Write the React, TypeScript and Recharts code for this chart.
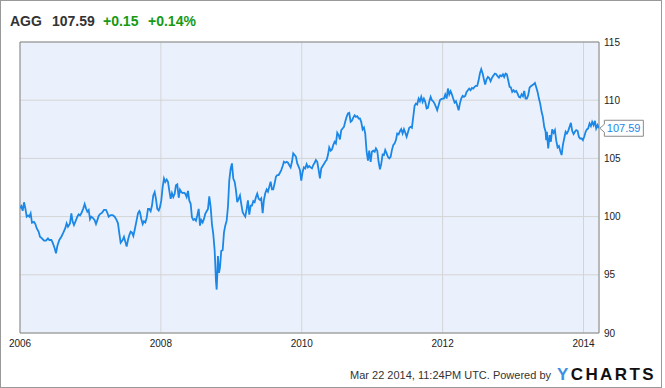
import React from 'react';
import { LineChart, Line, XAxis, YAxis, CartesianGrid, ReferenceArea, ReferenceDot } from 'recharts';

const ticker = 'AGG';
const lastPrice = 107.59;
const changeAbs = '+0.15';
const changePct = '+0.14%';
const footerText = 'Mar 22 2014, 11:24PM UTC. Powered by';

const xTicks = [2006, 2008, 2010, 2012, 2014];
const yTicks = [90, 95, 100, 105, 110, 115];
const xDomain: [number, number] = [2006, 2014.22];
const yDomain: [number, number] = [90, 115];

// [decimal year, closing price]
const seg2006_2007: [number, number][] = [
  [2006.000,100.71],[2006.019,100.90],[2006.038,100.50],[2006.057,101.23],[2006.076,100.70],[2006.095,99.99],[2006.114,100.10],[2006.132,100.00],[2006.151,100.28],[2006.170,99.48],[2006.199,99.55],[2006.218,99.36],[2006.237,99.00],[2006.265,98.70],[2006.284,98.27],[2006.312,98.13],[2006.341,97.93],[2006.369,97.93],[2006.397,98.13],[2006.416,97.99],[2006.445,97.99],[2006.464,97.76],[2006.492,97.28],[2006.511,96.85],[2006.530,97.47],[2006.558,97.99],[2006.587,98.27],[2006.615,98.62],[2006.643,99.00],[2006.662,99.42],[2006.681,99.13],[2006.710,99.42],[2006.729,100.28],[2006.748,99.55],[2006.766,99.27],[2006.785,99.55],[2006.814,99.99],[2006.833,100.19],[2006.852,100.10],[2006.871,100.28],[2006.899,100.71],[2006.918,101.08],[2006.937,100.71],[2006.956,100.42],[2006.975,100.57],[2006.994,99.77],
  [2007.012,99.99],[2007.041,99.85],[2007.060,99.70],[2007.079,99.36],[2007.098,99.70],[2007.117,100.05],[2007.136,100.22],[2007.164,100.33],[2007.192,100.57],[2007.221,100.57],[2007.240,100.33],[2007.259,99.99],[2007.287,100.13],[2007.315,100.13],[2007.344,99.99],[2007.372,99.70],[2007.391,99.42],[2007.410,98.56],[2007.429,97.76],[2007.457,97.99],[2007.476,98.27],[2007.495,97.85],[2007.514,97.42],[2007.533,97.99],[2007.552,98.41],[2007.571,98.70],[2007.590,98.62],[2007.609,98.33],[2007.628,98.85],[2007.656,99.70],[2007.675,100.28],[2007.694,100.48],[2007.703,100.38],[2007.722,99.80],[2007.742,99.36],[2007.760,99.60],[2007.779,99.50],[2007.798,99.88],[2007.817,100.66],[2007.835,100.66],[2007.855,100.46],[2007.874,100.95],[2007.892,101.82],[2007.912,102.11],[2007.930,101.53],[2007.949,100.66],[2007.969,100.52],[2007.987,100.81],
];

const seg2008_2009: [number, number][] = [
  [2008.006,101.39],[2008.025,102.54],[2008.044,103.27],[2008.062,102.98],[2008.082,103.18],[2008.101,102.98],[2008.119,102.25],[2008.139,101.53],[2008.157,102.02],[2008.176,101.68],[2008.196,101.97],[2008.214,102.69],[2008.233,102.77],[2008.253,101.62],[2008.271,102.31],[2008.290,102.11],[2008.309,102.02],[2008.328,102.05],[2008.346,101.97],[2008.366,101.68],[2008.385,102.20],[2008.403,101.39],[2008.423,101.10],[2008.441,99.94],[2008.460,99.71],[2008.480,99.80],[2008.498,99.65],[2008.517,100.09],[2008.537,100.66],[2008.555,99.22],[2008.573,99.71],[2008.593,99.50],[2008.612,99.80],[2008.630,100.23],[2008.650,100.46],[2008.669,100.66],[2008.687,101.73],[2008.707,100.81],[2008.725,99.36],[2008.744,98.50],[2008.764,97.05],[2008.782,94.45],[2008.792,93.73],[2008.801,95.03],[2008.810,96.62],[2008.825,95.17],[2008.839,95.61],[2008.857,97.05],[2008.877,97.11],[2008.896,98.64],[2008.914,99.22],[2008.934,99.65],[2008.952,100.81],[2008.971,103.12],[2008.991,104.13],
  [2009.009,104.57],[2009.028,103.27],[2009.048,102.98],[2009.066,102.25],[2009.084,101.24],[2009.104,101.53],[2009.123,101.82],[2009.141,101.10],[2009.161,100.38],[2009.180,100.17],[2009.198,100.00],[2009.218,100.66],[2009.236,101.39],[2009.255,100.17],[2009.275,100.95],[2009.293,100.95],[2009.312,101.33],[2009.331,101.24],[2009.350,101.68],[2009.368,101.97],[2009.388,101.53],[2009.407,101.43],[2009.425,101.57],[2009.445,100.29],[2009.463,101.43],[2009.482,102.00],[2009.502,102.34],[2009.520,102.14],[2009.539,102.57],[2009.558,103.00],[2009.577,102.34],[2009.595,102.34],[2009.615,102.86],[2009.634,103.43],[2009.652,103.57],[2009.672,103.57],[2009.690,103.77],[2009.709,104.00],[2009.729,104.34],[2009.747,104.71],[2009.766,104.63],[2009.786,104.71],[2009.804,104.63],[2009.822,104.43],[2009.842,104.23],[2009.861,104.71],[2009.879,105.43],[2009.899,105.29],[2009.918,105.14],[2009.936,104.57],[2009.956,104.29],[2009.974,104.00],[2009.993,103.09],
];

const seg2010_2011: [number, number][] = [
  [2010.013,103.86],[2010.031,104.23],[2010.050,104.14],[2010.069,104.51],[2010.088,104.23],[2010.106,104.34],[2010.126,104.23],[2010.145,104.14],[2010.163,104.43],[2010.183,104.63],[2010.201,104.86],[2010.220,104.71],[2010.240,104.00],[2010.258,103.29],[2010.277,104.14],[2010.297,104.34],[2010.315,104.51],[2010.333,104.71],[2010.353,104.86],[2010.372,105.29],[2010.390,105.94],[2010.410,105.66],[2010.429,105.77],[2010.447,106.14],[2010.467,106.43],[2010.485,106.29],[2010.504,107.20],[2010.524,107.00],[2010.542,106.63],[2010.561,107.43],[2010.580,107.57],[2010.599,107.71],[2010.617,108.14],[2010.637,108.57],[2010.656,108.86],[2010.674,108.91],[2010.694,108.14],[2010.712,108.23],[2010.731,108.51],[2010.751,108.71],[2010.769,108.57],[2010.788,108.63],[2010.808,108.43],[2010.826,108.43],[2010.844,108.14],[2010.864,107.49],[2010.883,107.66],[2010.901,107.14],[2010.921,105.57],[2010.940,104.80],[2010.958,105.66],[2010.978,104.71],[2010.996,105.57],
  [2011.015,105.66],[2011.035,105.57],[2011.053,105.86],[2011.072,105.66],[2011.091,104.71],[2011.110,104.06],[2011.128,104.51],[2011.148,105.34],[2011.167,105.29],[2011.185,105.71],[2011.205,105.43],[2011.223,105.14],[2011.242,105.00],[2011.262,105.14],[2011.280,105.71],[2011.299,106.14],[2011.319,106.29],[2011.337,106.57],[2011.355,107.14],[2011.375,107.06],[2011.394,107.34],[2011.412,107.51],[2011.432,107.14],[2011.451,107.51],[2011.469,107.23],[2011.489,106.86],[2011.507,107.23],[2011.526,107.63],[2011.546,107.71],[2011.564,107.63],[2011.583,108.57],[2011.602,109.51],[2011.621,109.71],[2011.639,109.63],[2011.659,110.14],[2011.678,109.91],[2011.696,110.29],[2011.716,109.86],[2011.734,110.14],[2011.753,109.86],[2011.773,109.29],[2011.791,109.34],[2011.810,109.86],[2011.830,110.29],[2011.848,110.00],[2011.866,109.91],[2011.886,109.71],[2011.905,109.43],[2011.923,109.14],[2011.943,109.57],[2011.962,110.00],[2011.980,110.09],
];

const seg2012_2014: [number, number][] = [
  [2012.000,110.14],[2012.018,110.14],[2012.037,110.49],[2012.057,110.14],[2012.075,111.00],[2012.094,110.49],[2012.113,110.77],[2012.132,110.49],[2012.150,110.14],[2012.170,109.80],[2012.189,109.91],[2012.207,109.57],[2012.227,109.14],[2012.245,109.71],[2012.264,110.14],[2012.284,110.37],[2012.302,110.29],[2012.321,110.37],[2012.340,110.71],[2012.359,110.86],[2012.377,111.00],[2012.397,110.86],[2012.416,111.06],[2012.434,111.00],[2012.454,111.14],[2012.472,111.23],[2012.491,111.23],[2012.511,111.71],[2012.529,112.29],[2012.548,112.66],[2012.568,112.29],[2012.586,111.80],[2012.604,111.34],[2012.624,111.80],[2012.643,112.00],[2012.661,111.91],[2012.681,111.63],[2012.700,111.91],[2012.718,112.09],[2012.742,112.29],[2012.761,112.23],[2012.780,112.06],[2012.799,111.94],[2012.817,112.14],[2012.837,112.06],[2012.856,112.23],[2012.874,112.00],[2012.894,112.29],[2012.912,112.23],[2012.931,111.71],[2012.951,111.14],[2012.969,111.09],[2012.988,110.71],
  [2013.008,110.86],[2013.026,110.71],[2013.044,110.80],[2013.064,110.57],[2013.083,110.29],[2013.101,110.23],[2013.121,110.51],[2013.140,110.34],[2013.158,110.80],[2013.178,110.14],[2013.196,110.14],[2013.215,110.43],[2013.235,111.09],[2013.253,111.20],[2013.272,111.29],[2013.291,111.37],[2013.310,111.49],[2013.328,111.14],[2013.348,110.71],[2013.367,110.14],[2013.385,109.71],[2013.405,109.00],[2013.423,108.57],[2013.442,107.71],[2013.462,107.29],[2013.470,106.57],[2013.480,107.29],[2013.499,105.86],[2013.519,107.00],[2013.537,106.43],[2013.555,107.49],[2013.575,107.20],[2013.594,107.43],[2013.612,106.57],[2013.632,105.94],[2013.651,106.06],[2013.669,105.66],[2013.689,105.29],[2013.707,106.14],[2013.726,106.71],[2013.746,107.29],[2013.764,107.14],[2013.783,107.37],[2013.802,107.71],[2013.821,108.06],[2013.839,107.37],[2013.859,107.09],[2013.878,107.29],[2013.896,107.43],[2013.916,107.37],[2013.934,106.86],[2013.953,106.71],[2013.973,106.71],[2013.991,106.57],
  [2014.010,106.86],[2014.030,107.29],[2014.048,107.49],[2014.066,107.57],[2014.086,108.00],[2014.105,107.77],[2014.123,108.14],[2014.143,107.86],[2014.162,108.23],[2014.180,107.57],[2014.200,107.86],[2014.218,107.59],
];

const data = [...seg2006_2007, ...seg2008_2009, ...seg2010_2011, ...seg2012_2014].map(([t, p]) => ({ t, p }));
const lastPoint = data[data.length - 1];

const FONT = '"Liberation Sans", Arial, Helvetica, sans-serif';
const LINE_BLUE = '#1b87e6';

const PriceTag = (props: any) => {
  const { cx, cy } = props;
  if (cx == null || cy == null) return null;
  const x0 = cx + 1;
  const bx = x0 + 4.5;
  const bw = 39;
  const h = 8;
  const d = `M ${x0} ${cy} L ${bx} ${cy - 4} L ${bx} ${cy - h} L ${bx + bw} ${cy - h} L ${bx + bw} ${cy + h} L ${bx} ${cy + h} L ${bx} ${cy + 4} Z`;
  return (
    <g>
      <path d={d} fill="#ffffff" stroke="#8a8a8a" strokeWidth={1} />
      <text x={bx + 2.5} y={cy} dy="0.36em" fill={LINE_BLUE} fontSize={11} fontFamily={FONT}>
        {lastPrice.toFixed(2)}
      </text>
    </g>
  );
};

export default function App() {
  return (
    <div style={{ position: 'absolute', left: 0, top: 0, width: 665, height: 388, background: '#ffffff', overflow: 'hidden' }}>
      <div style={{ position: 'absolute', left: 0, top: 0 }}>
        <LineChart width={665} height={388} data={data} margin={{ top: 42, right: 0, bottom: 0, left: 20 }}>
          <CartesianGrid fill="#eaf1fc" stroke="#d4d4d4" strokeWidth={1} />
          <XAxis
            dataKey="t"
            type="number"
            domain={xDomain}
            ticks={xTicks}
            allowDataOverflow
            height={55}
            axisLine={false}
            tickLine={false}
            tickSize={0}
            tickMargin={7}
            interval={0}
            tick={{ fontSize: 10, fill: '#222', fontFamily: FONT }}
          />
          <YAxis
            orientation="right"
            type="number"
            domain={yDomain}
            ticks={yTicks}
            allowDataOverflow
            width={66}
            axisLine={false}
            tickLine={false}
            tickSize={0}
            tickMargin={5}
            interval={0}
            tick={{ fontSize: 10, fill: '#222', fontFamily: FONT }}
          />
          <ReferenceArea x1={xDomain[0]} x2={xDomain[1]} y1={yDomain[0]} y2={yDomain[1]} fill="none" stroke="#8a8a8a" strokeWidth={1} ifOverflow="visible" />
          <Line type="linear" dataKey="p" stroke={LINE_BLUE} strokeWidth={1.8} dot={false} activeDot={false} isAnimationActive={false} />
          <ReferenceDot x={lastPoint.t} y={lastPrice} r={0} ifOverflow="visible" shape={(p: any) => <PriceTag {...p} />} />
        </LineChart>
      </div>
      <svg width={665} height={388} style={{ position: 'absolute', left: 0, top: 0, pointerEvents: 'none' }}>
        <g fontFamily={FONT} fontWeight="bold" fontSize={14}>
          <text x={10} y={26} fill="#333333">{ticker}</text>
          <text x={52} y={26} fill="#333333">{lastPrice.toFixed(2)}</text>
          <text x={103} y={26} fill="#169a16">{changeAbs}</text>
          <text x={148} y={26} fill="#169a16">{changePct}</text>
        </g>
        <text x={551} y={379} textAnchor="end" fontFamily={FONT} fontSize={11} fill="#333333">{footerText}</text>
        <text x={557} y={380} fontFamily={FONT} fontSize={17} fontWeight="bold" letterSpacing={2.4}>
          <tspan fill="#3c8fe3">Y</tspan>
          <tspan fill="#111111">CHARTS</tspan>
        </text>
      </svg>
      <div style={{ position: 'absolute', left: 0, top: 0, width: 662, height: 388, border: '1px solid #999999', boxSizing: 'border-box', pointerEvents: 'none' }} />
    </div>
  );
}
